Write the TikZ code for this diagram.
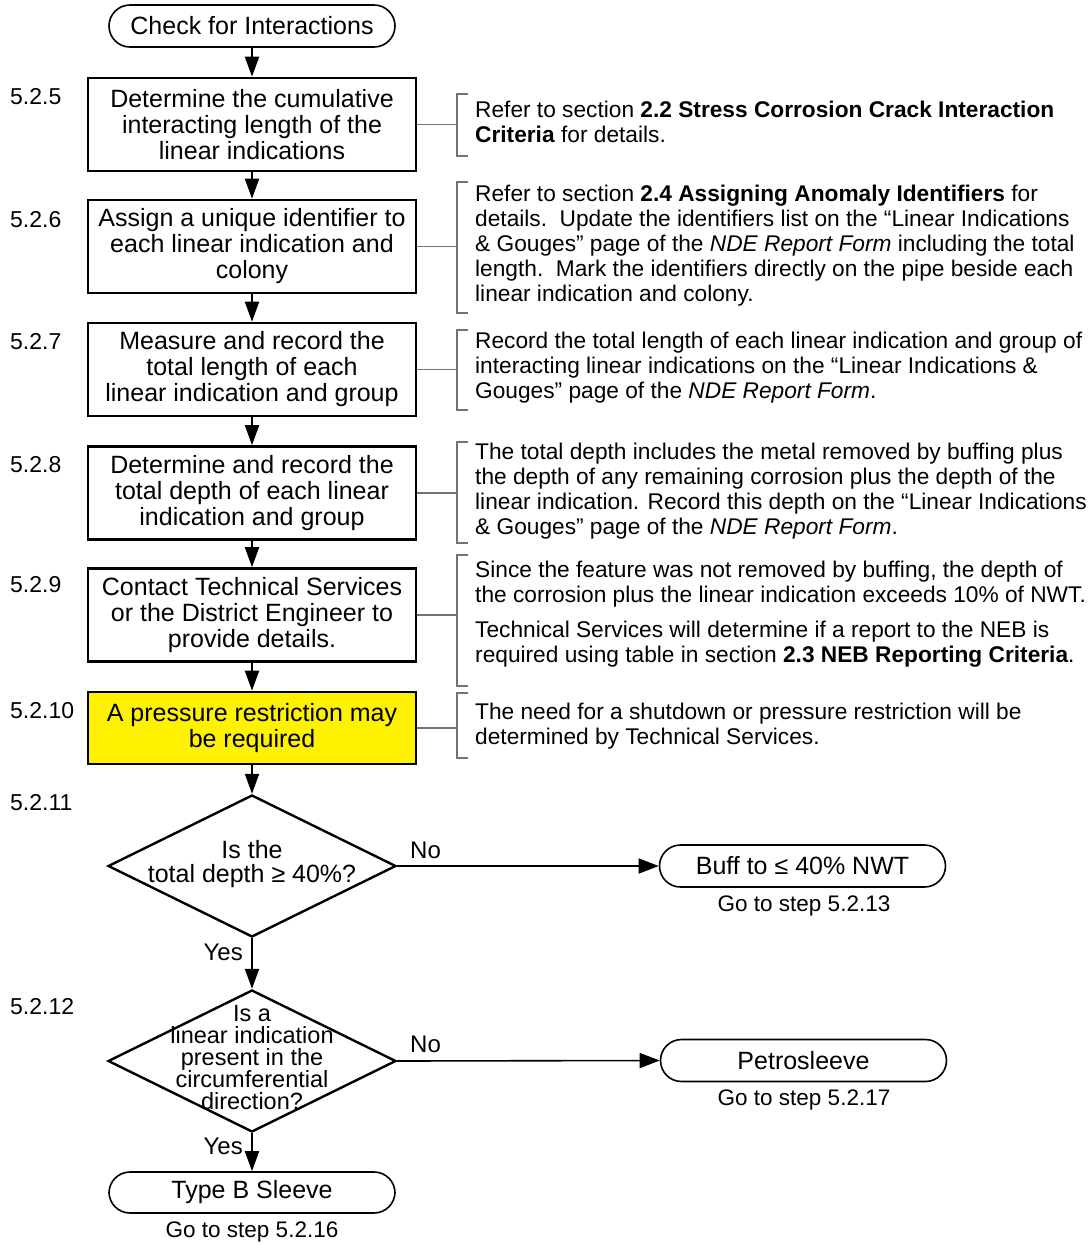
\documentclass[tikz,border=0pt]{standalone}
\usepackage{fontspec}
\setmainfont{Liberation Sans}
\usetikzlibrary{arrows.meta,shapes.geometric,calc}

\begin{document}
\begin{tikzpicture}[x=1pt,y=-1pt,
  stepbox/.style={draw, line width=2.6pt, minimum width=328pt, minimum height=93pt,
    inner sep=0pt, align=center, font=\fontsize{25}{26}\selectfont},
  term/.style={draw, line width=1.6pt, rounded corners=21pt, minimum width=286pt,
    minimum height=42pt, inner sep=0pt, font=\fontsize{25}{26}\selectfont},
  decision/.style={draw, diamond, line width=2.4pt, minimum width=288pt,
    minimum height=142pt, inner sep=0pt},
  dtext/.style={align=center, inner sep=0pt},
  note/.style={anchor=west, align=left, inner sep=0pt, font=\fontsize{22.7}{25}\selectfont},
  steplabel/.style={anchor=west, inner sep=0pt, font=\fontsize{23}{26}\selectfont},
  gotext/.style={inner sep=0pt, font=\fontsize{22.5}{25}\selectfont},
  branch/.style={inner sep=0pt, font=\fontsize{24}{26}\selectfont},
  flow/.style={line width=2pt, -{Triangle[length=20pt,width=14pt]}},
  flowh/.style={line width=1.6pt, -{Triangle[length=20pt,width=15pt]}},
  link/.style={draw=black!55, line width=1.1pt},
]
\useasboundingbox (0,0) rectangle (1091,1245);

% main flow
\node[term] (start) at (252,26) {Check for Interactions};
\node[stepbox] (b1) at (252,124.5) {Determine the cumulative\\interacting length of the\\linear indications};
\node[stepbox] (b2) at (252,246.5) {Assign a unique identifier to\\each linear indication and\\colony};
\node[stepbox] (b3) at (252,369.5) {Measure and record the\\total length of each\\linear indication and group};
\node[stepbox] (b4) at (252,493) {Determine and record the\\total depth of each linear\\indication and group};
\node[stepbox] (b5) at (252,615) {Contact Technical Services\\or the District Engineer to\\provide details.};
\node[stepbox, fill=yellow, minimum height=72pt] (b6) at (252,728) {A pressure restriction may\\be required};
\node[decision] (d1) at (252,866) {};
\node[dtext, font=\fontsize{25}{24}\selectfont] (d1t) at (252,864) {Is the\\total depth ≥ 40\%?};
\node[decision] (d2) at (252,1061) {};
\node[dtext, font=\fontsize{23.5}{22}\selectfont] (d2t) at (252,1058) {Is a\\linear indication\\present in the\\circumferential\\direction?};
\node[term] (buff) at (802.5,866) {Buff to ≤ 40\% NWT};
\node[term] (petro) at (803.5,1060.5) {Petrosleeve};
\node[term, minimum height=41pt] (typeb) at (252,1192.5) {Type B Sleeve};

\node[gotext] (g1) at (804,906) {Go to step 5.2.13};
\node[gotext] (g2) at (804,1100) {Go to step 5.2.17};
\node[gotext] (g3) at (252,1232) {Go to step 5.2.16};

% step numbers
\node[steplabel] (s5) at (10,97) {5.2.5};
\node[steplabel] (s6) at (10,220) {5.2.6};
\node[steplabel] (s7) at (10,342) {5.2.7};
\node[steplabel] (s8) at (10,465) {5.2.8};
\node[steplabel] (s9) at (10,585) {5.2.9};
\node[steplabel] (s10) at (10,711) {5.2.10};
\node[steplabel] (s11) at (10,803) {5.2.11};
\node[steplabel] (s12) at (10,1007) {5.2.12};

% arrows
\draw[flow] (start) -- (b1);
\draw[flow] (b1) -- (b2);
\draw[flow] (b2) -- (b3);
\draw[flow] (b3) -- (b4);
\draw[flow] (b4) -- (b5);
\draw[flow] (b5) -- (b6);
\draw[flow] (b6) -- (d1);
\draw[flow] (d1.south) -- (d2.north);
\draw[flow] (d2.south) -- (typeb.north);
\draw[flowh] (d1.east) -- (buff.west);
\draw[flowh] (d2.east) -- (petro.west);
\node[branch, anchor=west] (no1) at (410,850) {No};
\node[branch, anchor=west] (no2) at (410,1044) {No};
\node[branch, anchor=east] (yes1) at (243,952) {Yes};
\node[branch, anchor=east] (yes2) at (243,1146) {Yes};

% notes with brackets
\node[note] (n1) at (475,122) {Refer to section \textbf{2.2 Stress Corrosion Crack Interaction}\\\textbf{Criteria} for details.};
\node[note] (n2) at (475,246) {Refer to section \textbf{2.4 Assigning Anomaly Identifiers} for\\details.\ \ Update the identifiers list on the “Linear Indications\\\& Gouges” page of the \textit{NDE Report Form} including the total\\length.\ \ Mark the identifiers directly on the pipe beside each\\linear indication and colony.};
\node[note] (n3) at (475,368) {Record the total length of each linear indication and group of\\interacting linear indications on the “Linear Indications \&\\Gouges” page of the \textit{NDE Report Form}.};
\node[note] (n4) at (475,491.5) {The total depth includes the metal removed by buffing plus\\the depth of any remaining corrosion plus the depth of the\\linear indication. Record this depth on the “Linear Indications\\\& Gouges” page of the \textit{NDE Report Form}.};
\node[note] (n5) at (475,614.5) {Since the feature was not removed by buffing, the depth of\\the corrosion plus the linear indication exceeds 10\% of NWT.\\[10pt]Technical Services will determine if a report to the NEB is\\required using table in section \textbf{2.3 NEB Reporting Criteria}.};
\node[note] (n6) at (475,726.5) {The need for a shutdown or pressure restriction will be\\determined by Technical Services.};

\foreach \i/\top/\bot/\mid in {1/94/156/124.5, 2/182/313/246.5, 3/330/410/369.5,
                              4/442/543/493, 5/555/686/615, 6/693/758/728} {
  \coordinate (k\i) at (457,\mid);
  \coordinate (kt\i) at (457,\top);
  \coordinate (kb\i) at (457,\bot);
  \draw[link] ($(kt\i)+(11,0)$) -- (kt\i) -- (kb\i) -- ($(kb\i)+(11,0)$);
  \draw[link] (b\i.east) -- (k\i);
}
\end{tikzpicture}
\end{document}
